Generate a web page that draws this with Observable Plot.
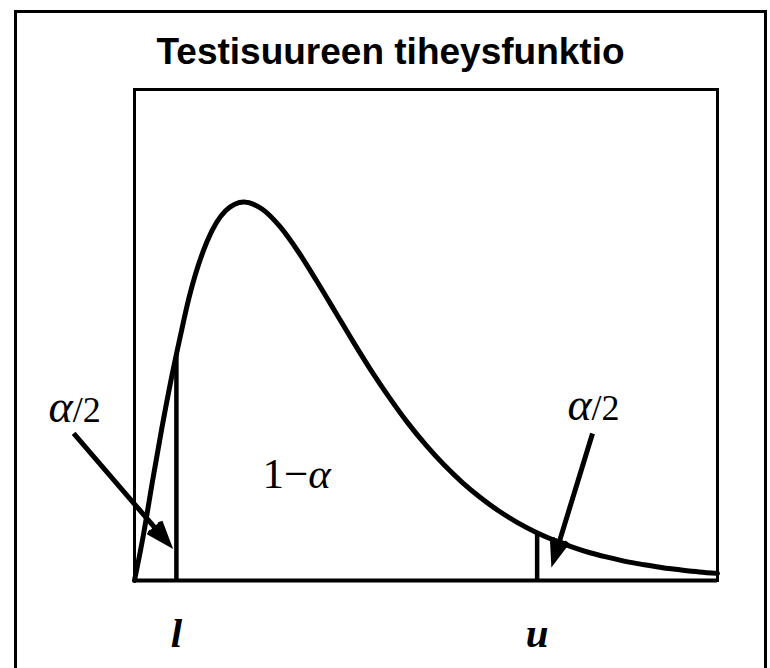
<!DOCTYPE html>
<html>
<head>
<meta charset="utf-8">
<script src="https://cdn.jsdelivr.net/npm/d3@7"></script>
<script src="https://cdn.jsdelivr.net/npm/@observablehq/plot@0.6"></script>
<style>
  html, body { margin: 0; padding: 0; background: #fff; overflow: hidden; }
  #wrap { position: relative; width: 770px; height: 668px; overflow: hidden; }
  #outer { position: absolute; left: 14px; top: 10px; width: 753px; height: 720px;
           border: 3px solid #000; box-sizing: border-box; }
  #title { position: absolute; left: 14px; width: 753px; top: 33px; text-align: center;
           font-family: "Liberation Sans", Arial, sans-serif; font-weight: bold;
           font-size: 37px; line-height: 37px; color: #000; }
  #chart { position: absolute; left: 0; top: 0; }
</style>
</head>
<body>
<div id="wrap">
  <div id="outer"></div>
  <div id="title">Testisuureen tiheysfunktio</div>
  <div id="chart"></div>
</div>
<script>
// Density curve (x in test-statistic units, y = density)
const curveX = [0, 0.25, 0.5, 0.75, 1, 1.25, 1.5, 2, 2.5, 3, 3.5, 4, 4.5, 5, 5.5, 6, 6.5, 7, 7.5, 8,
                8.5, 9, 9.5, 10, 10.5, 11, 11.5, 12, 12.5, 13, 13.5, 14, 14.5, 15, 15.5, 16];
const curveY = [0, 0.019, 0.041, 0.062, 0.0815, 0.099, 0.1154, 0.1384, 0.1506, 0.1542, 0.1513, 0.1440,
                0.1338, 0.1220, 0.1097, 0.0973, 0.0854, 0.0744, 0.0642, 0.0551, 0.0470, 0.0399, 0.0337,
                0.0283, 0.0237, 0.0198, 0.0165, 0.0137, 0.0113, 0.0094, 0.0077, 0.0064, 0.0052, 0.0043,
                0.0035, 0.0029];

// Critical values l and u, and curve height there
const critNames = ["l", "u"];
const critX = [1.15, 11.05];
const critY = [0.092, 0.0193];

// Area labels
const labelTexts = ["α/2", "1−α", "α/2"];
const labelX = [-2.36, 3.51, 11.88];
const labelY = [0.0644, 0.0375, 0.0652];

// Arrows from labels to tail areas
const arrowX1 = [-1.67, 12.57];
const arrowY1 = [0.0599, 0.0599];
const arrowX2 = [0.93, 11.50];
const arrowY2 = [0.0151, 0.0081];

const xDomain = [0, 16];
const yDomain = [0, 0.2];

const curve = curveX.map((x, i) => ({x, y: curveY[i]}));
const crit = critNames.map((name, i) => ({name, x: critX[i], y: critY[i]}));
const labels = labelTexts.map((t, i) => ({t, x: labelX[i], y: labelY[i]}));
const arrows = arrowX1.map((x1, i) => ({x1, y1: arrowY1[i], x2: arrowX2[i], y2: arrowY2[i]}));

const plot = Plot.plot({
  width: 770,
  height: 668,
  marginTop: 89,
  marginRight: 53,
  marginBottom: 88,
  marginLeft: 134,
  x: {domain: xDomain, axis: null},
  y: {domain: yDomain, axis: null},
  style: {background: "transparent", overflow: "visible", color: "#000"},
  marks: [
    Plot.frame({stroke: "#000", strokeWidth: 3}),
    Plot.ruleY([0], {stroke: "#000", strokeWidth: 4}),
    Plot.ruleX(crit, {x: "x", y1: 0, y2: "y", stroke: "#000", strokeWidth: 4.5}),
    Plot.line(curve, {x: "x", y: "y", curve: "monotone-x", stroke: "#000", strokeWidth: 5}),
    Plot.arrow(arrows, {x1: "x1", y1: "y1", x2: "x2", y2: "y2", stroke: "#000", fill: "#000",
      strokeWidth: 5, headLength: 7, headAngle: 40, strokeLinejoin: "miter", strokeLinecap: "butt",
      strokeMiterlimit: 4}),
    Plot.text(labels, {x: "x", y: "y", text: "t", textAnchor: "start", lineAnchor: "bottom",
      fontFamily: "Liberation Serif, Times New Roman, serif", fontSize: 43, fill: "#000"}),
    Plot.text(crit, {x: "x", y: -0.027, text: "name", textAnchor: "middle", lineAnchor: "bottom",
      fontFamily: "Liberation Serif, Times New Roman, serif", fontSize: 41, fontWeight: "bold",
      fontStyle: "italic", fill: "#000"})
  ]
});

// Mixed styling inside labels (α italic, digits upright)
const NS = "http://www.w3.org/2000/svg";
function tspan(text, attrs) {
  const t = document.createElementNS(NS, "tspan");
  for (const k in attrs) t.setAttribute(k, attrs[k]);
  t.textContent = text;
  return t;
}
plot.querySelectorAll("text").forEach(el => {
  const s = el.textContent;
  if (s === "α/2") {
    el.textContent = "";
    el.appendChild(tspan("α", {"font-size": 46, "font-style": "italic"}));
    el.appendChild(tspan("/2", {"font-size": 36}));
  } else if (s === "1−α") {
    el.textContent = "";
    el.appendChild(tspan("1−", {}));
    el.appendChild(tspan("α", {"font-style": "italic"}));
  }
});

document.getElementById("chart").appendChild(plot);
</script>
</body>
</html>
